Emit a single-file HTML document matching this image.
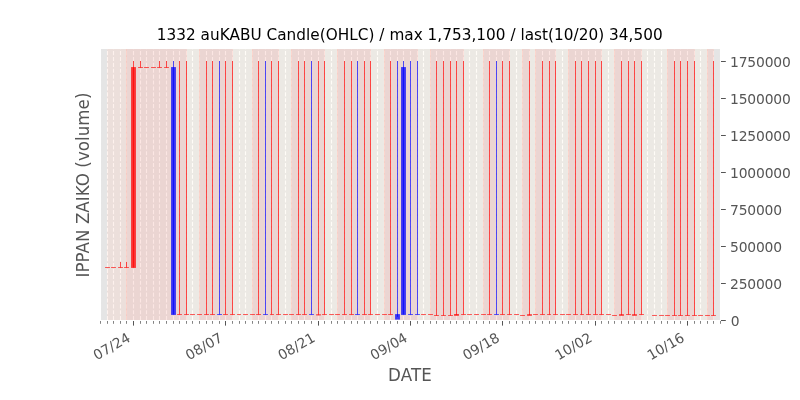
<!DOCTYPE html>
<html><head><meta charset="utf-8"><title>1332 auKABU Candle(OHLC)</title>
<style>html,body{margin:0;padding:0;background:#fff}body{width:800px;height:400px;overflow:hidden}</style></head>
<body>
<svg width="800" height="400" viewBox="0 0 800 400" style="display:block">
<rect width="800" height="400" fill="#fff"/>
<rect x="100" y="48" width="620" height="272" fill="#e5e5e5"/>
<g stroke="#fff" stroke-width="1.11" stroke-dasharray="4.11 1.78" fill="none">
<path d="M100.5 320.2V48"/>
<path d="M107.5 320.2V48"/>
<path d="M113.5 320.2V48"/>
<path d="M120.5 320.2V48"/>
<path d="M126.5 320.2V48"/>
<path d="M133.5 320.2V48"/>
<path d="M140.5 320.2V48"/>
<path d="M146.5 320.2V48"/>
<path d="M153.5 320.2V48"/>
<path d="M159.5 320.2V48"/>
<path d="M166.5 320.2V48"/>
<path d="M173.5 320.2V48"/>
<path d="M179.5 320.2V48"/>
<path d="M186.5 320.2V48"/>
<path d="M192.5 320.2V48"/>
<path d="M199.5 320.2V48"/>
<path d="M206.5 320.2V48"/>
<path d="M212.5 320.2V48"/>
<path d="M219.5 320.2V48"/>
<path d="M225.5 320.2V48"/>
<path d="M232.5 320.2V48"/>
<path d="M239.5 320.2V48"/>
<path d="M245.5 320.2V48"/>
<path d="M252.5 320.2V48"/>
<path d="M258.5 320.2V48"/>
<path d="M265.5 320.2V48"/>
<path d="M271.5 320.2V48"/>
<path d="M278.5 320.2V48"/>
<path d="M285.5 320.2V48"/>
<path d="M291.5 320.2V48"/>
<path d="M298.5 320.2V48"/>
<path d="M304.5 320.2V48"/>
<path d="M311.5 320.2V48"/>
<path d="M318.5 320.2V48"/>
<path d="M324.5 320.2V48"/>
<path d="M331.5 320.2V48"/>
<path d="M337.5 320.2V48"/>
<path d="M344.5 320.2V48"/>
<path d="M351.5 320.2V48"/>
<path d="M357.5 320.2V48"/>
<path d="M364.5 320.2V48"/>
<path d="M370.5 320.2V48"/>
<path d="M377.5 320.2V48"/>
<path d="M384.5 320.2V48"/>
<path d="M390.5 320.2V48"/>
<path d="M397.5 320.2V48"/>
<path d="M403.5 320.2V48"/>
<path d="M410.5 320.2V48"/>
<path d="M417.5 320.2V48"/>
<path d="M423.5 320.2V48"/>
<path d="M430.5 320.2V48"/>
<path d="M436.5 320.2V48"/>
<path d="M443.5 320.2V48"/>
<path d="M450.5 320.2V48"/>
<path d="M456.5 320.2V48"/>
<path d="M463.5 320.2V48"/>
<path d="M469.5 320.2V48"/>
<path d="M476.5 320.2V48"/>
<path d="M483.5 320.2V48"/>
<path d="M489.5 320.2V48"/>
<path d="M496.5 320.2V48"/>
<path d="M502.5 320.2V48"/>
<path d="M509.5 320.2V48"/>
<path d="M516.5 320.2V48"/>
<path d="M522.5 320.2V48"/>
<path d="M529.5 320.2V48"/>
<path d="M535.5 320.2V48"/>
<path d="M542.5 320.2V48"/>
<path d="M549.5 320.2V48"/>
<path d="M555.5 320.2V48"/>
<path d="M562.5 320.2V48"/>
<path d="M568.5 320.2V48"/>
<path d="M575.5 320.2V48"/>
<path d="M581.5 320.2V48"/>
<path d="M588.5 320.2V48"/>
<path d="M595.5 320.2V48"/>
<path d="M601.5 320.2V48"/>
<path d="M608.5 320.2V48"/>
<path d="M614.5 320.2V48"/>
<path d="M621.5 320.2V48"/>
<path d="M628.5 320.2V48"/>
<path d="M634.5 320.2V48"/>
<path d="M641.5 320.2V48"/>
<path d="M647.5 320.2V48"/>
<path d="M654.5 320.2V48"/>
<path d="M661.5 320.2V48"/>
<path d="M667.5 320.2V48"/>
<path d="M674.5 320.2V48"/>
<path d="M680.5 320.2V48"/>
<path d="M687.5 320.2V48"/>
<path d="M694.5 320.2V48"/>
<path d="M700.5 320.2V48"/>
<path d="M707.5 320.2V48"/>
<path d="M713.5 320.2V48"/>
<path d="M720.5 320.2V48"/>
</g>
<rect x="107.15" y="48" width="606.70" height="272" fill="#fef3e1" fill-opacity="0.28"/>
<rect x="107.15" y="48" width="19.70" height="272" fill="#e22b3a" fill-opacity="0.05"/>
<rect x="126.15" y="48" width="60.70" height="272" fill="#e22b3a" fill-opacity="0.1"/>
<rect x="199.15" y="48" width="33.70" height="272" fill="#e22b3a" fill-opacity="0.1"/>
<rect x="252.15" y="48" width="26.70" height="272" fill="#e22b3a" fill-opacity="0.1"/>
<rect x="291.15" y="48" width="33.70" height="272" fill="#e22b3a" fill-opacity="0.1"/>
<rect x="337.15" y="48" width="33.70" height="272" fill="#e22b3a" fill-opacity="0.1"/>
<rect x="384.15" y="48" width="33.70" height="272" fill="#e22b3a" fill-opacity="0.1"/>
<rect x="430.15" y="48" width="33.70" height="272" fill="#e22b3a" fill-opacity="0.1"/>
<rect x="483.15" y="48" width="26.70" height="272" fill="#e22b3a" fill-opacity="0.1"/>
<rect x="522.15" y="48" width="7.70" height="272" fill="#e22b3a" fill-opacity="0.1"/>
<rect x="535.15" y="48" width="20.70" height="272" fill="#e22b3a" fill-opacity="0.1"/>
<rect x="568.15" y="48" width="33.70" height="272" fill="#e22b3a" fill-opacity="0.1"/>
<rect x="614.15" y="48" width="27.70" height="272" fill="#e22b3a" fill-opacity="0.1"/>
<rect x="667.15" y="48" width="27.70" height="272" fill="#e22b3a" fill-opacity="0.1"/>
<rect x="707.15" y="48" width="6.70" height="272" fill="#e22b3a" fill-opacity="0.1"/>
<g fill="#fbcabe" fill-opacity="0.6">
<rect x="126" y="48" width="1" height="272"/>
<rect x="186" y="48" width="1" height="272" fill-opacity="0.25"/>
<rect x="199" y="48" width="1" height="272"/>
<rect x="232" y="48" width="1" height="272" fill-opacity="0.25"/>
<rect x="252" y="48" width="1" height="272"/>
<rect x="278" y="48" width="1" height="272" fill-opacity="0.25"/>
<rect x="291" y="48" width="1" height="272"/>
<rect x="324" y="48" width="1" height="272" fill-opacity="0.25"/>
<rect x="337" y="48" width="1" height="272"/>
<rect x="370" y="48" width="1" height="272" fill-opacity="0.25"/>
<rect x="384" y="48" width="1" height="272"/>
<rect x="417" y="48" width="1" height="272" fill-opacity="0.25"/>
<rect x="430" y="48" width="1" height="272"/>
<rect x="463" y="48" width="1" height="272" fill-opacity="0.25"/>
<rect x="483" y="48" width="1" height="272"/>
<rect x="509" y="48" width="1" height="272" fill-opacity="0.25"/>
<rect x="522" y="48" width="1" height="272"/>
<rect x="529" y="48" width="1" height="272" fill-opacity="0.25"/>
<rect x="535" y="48" width="1" height="272"/>
<rect x="555" y="48" width="1" height="272" fill-opacity="0.25"/>
<rect x="568" y="48" width="1" height="272"/>
<rect x="601" y="48" width="1" height="272" fill-opacity="0.25"/>
<rect x="614" y="48" width="1" height="272"/>
<rect x="641" y="48" width="1" height="272" fill-opacity="0.25"/>
<rect x="667" y="48" width="1" height="272"/>
<rect x="694" y="48" width="1" height="272" fill-opacity="0.25"/>
<rect x="707" y="48" width="1" height="272"/>
<rect x="713" y="48" width="1" height="272" fill-opacity="0.25"/>
</g>
<rect x="105.07" y="267.00" width="4.86" height="1" fill="#ff0000" fill-opacity="0.62"/>
<rect x="111.07" y="267.00" width="4.86" height="1" fill="#ff0000" fill-opacity="0.62"/>
<rect x="120" y="262.00" width="1" height="5.50" fill="#ff0000" fill-opacity="0.69"/>
<rect x="118.07" y="267.00" width="4.86" height="1" fill="#ff0000" fill-opacity="0.62"/>
<rect x="126" y="262.00" width="1" height="5.50" fill="#ff0000" fill-opacity="0.69"/>
<rect x="124.07" y="267.00" width="4.86" height="1" fill="#ff0000" fill-opacity="0.62"/>
<rect x="133" y="61.00" width="1" height="206.50" fill="#ff0000" fill-opacity="0.69"/>
<rect x="131.07" y="67.07" width="4.86" height="200.86" fill="#ff0000" fill-opacity="0.75"/>
<rect x="140" y="61.00" width="1" height="6.50" fill="#ff0000" fill-opacity="0.69"/>
<rect x="138.07" y="67.00" width="4.86" height="1" fill="#ff0000" fill-opacity="0.62"/>
<rect x="144.07" y="67.00" width="4.86" height="1" fill="#ff0000" fill-opacity="0.62"/>
<rect x="151.07" y="67.00" width="4.86" height="1" fill="#ff0000" fill-opacity="0.62"/>
<rect x="159" y="61.00" width="1" height="6.50" fill="#ff0000" fill-opacity="0.69"/>
<rect x="157.07" y="67.00" width="4.86" height="1" fill="#ff0000" fill-opacity="0.62"/>
<rect x="166" y="61.00" width="1" height="6.50" fill="#ff0000" fill-opacity="0.69"/>
<rect x="164.07" y="67.00" width="4.86" height="1" fill="#ff0000" fill-opacity="0.62"/>
<rect x="173" y="61.00" width="1" height="253.50" fill="#0000ff" fill-opacity="0.69"/>
<rect x="171.07" y="67.07" width="4.86" height="247.86" fill="#0000ff" fill-opacity="0.75"/>
<rect x="179" y="61.00" width="1" height="253.50" fill="#ff0000" fill-opacity="0.69"/>
<rect x="177.07" y="314.00" width="4.86" height="1" fill="#ff0000" fill-opacity="0.62"/>
<rect x="186" y="61.00" width="1" height="253.50" fill="#ff0000" fill-opacity="0.69"/>
<rect x="184.07" y="314.00" width="4.86" height="1" fill="#ff0000" fill-opacity="0.62"/>
<rect x="190.07" y="314.00" width="4.86" height="1" fill="#ff0000" fill-opacity="0.62"/>
<rect x="197.07" y="314.00" width="4.86" height="1" fill="#ff0000" fill-opacity="0.62"/>
<rect x="206" y="61.00" width="1" height="253.50" fill="#ff0000" fill-opacity="0.69"/>
<rect x="204.07" y="314.00" width="4.86" height="1" fill="#ff0000" fill-opacity="0.62"/>
<rect x="212" y="61.00" width="1" height="253.50" fill="#ff0000" fill-opacity="0.69"/>
<rect x="210.07" y="314.00" width="4.86" height="1" fill="#ff0000" fill-opacity="0.62"/>
<rect x="219" y="61.00" width="1" height="253.50" fill="#0000ff" fill-opacity="0.69"/>
<rect x="217.07" y="314.00" width="4.86" height="1" fill="#0000ff" fill-opacity="0.62"/>
<rect x="225" y="61.00" width="1" height="253.50" fill="#ff0000" fill-opacity="0.69"/>
<rect x="223.07" y="314.00" width="4.86" height="1" fill="#ff0000" fill-opacity="0.62"/>
<rect x="232" y="61.00" width="1" height="253.50" fill="#ff0000" fill-opacity="0.69"/>
<rect x="230.07" y="314.00" width="4.86" height="1" fill="#ff0000" fill-opacity="0.62"/>
<rect x="237.07" y="314.00" width="3.86" height="1" fill="#ff0000" fill-opacity="0.62"/>
<rect x="243.07" y="314.00" width="4.86" height="1" fill="#ff0000" fill-opacity="0.62"/>
<rect x="250.07" y="314.00" width="4.86" height="1" fill="#ff0000" fill-opacity="0.62"/>
<rect x="258" y="61.00" width="1" height="253.50" fill="#ff0000" fill-opacity="0.69"/>
<rect x="256.07" y="314.00" width="4.86" height="1" fill="#ff0000" fill-opacity="0.62"/>
<rect x="265" y="61.00" width="1" height="253.50" fill="#0000ff" fill-opacity="0.69"/>
<rect x="263.07" y="314.00" width="4.86" height="1" fill="#0000ff" fill-opacity="0.62"/>
<rect x="271" y="61.00" width="1" height="253.50" fill="#ff0000" fill-opacity="0.69"/>
<rect x="270.07" y="314.00" width="3.86" height="1" fill="#ff0000" fill-opacity="0.62"/>
<rect x="278" y="61.00" width="1" height="253.50" fill="#ff0000" fill-opacity="0.69"/>
<rect x="276.07" y="314.00" width="4.86" height="1" fill="#ff0000" fill-opacity="0.62"/>
<rect x="283.07" y="314.00" width="4.86" height="1" fill="#ff0000" fill-opacity="0.62"/>
<rect x="289.07" y="314.00" width="4.86" height="1" fill="#ff0000" fill-opacity="0.62"/>
<rect x="298" y="61.00" width="1" height="253.50" fill="#ff0000" fill-opacity="0.69"/>
<rect x="296.07" y="314.00" width="4.86" height="1" fill="#ff0000" fill-opacity="0.62"/>
<rect x="304" y="61.00" width="1" height="253.50" fill="#ff0000" fill-opacity="0.69"/>
<rect x="302.07" y="314.00" width="4.86" height="1" fill="#ff0000" fill-opacity="0.62"/>
<rect x="311" y="61.00" width="1" height="253.50" fill="#0000ff" fill-opacity="0.69"/>
<rect x="309.07" y="314.00" width="4.86" height="1" fill="#0000ff" fill-opacity="0.62"/>
<rect x="318" y="61.00" width="1" height="253.85" fill="#ff0000" fill-opacity="0.69"/>
<rect x="316.07" y="314.30" width="4.86" height="1.10" fill="#ff0000" fill-opacity="0.75"/>
<rect x="324" y="61.00" width="1" height="253.50" fill="#ff0000" fill-opacity="0.69"/>
<rect x="322.07" y="314.00" width="4.86" height="1" fill="#ff0000" fill-opacity="0.62"/>
<rect x="329.07" y="314.00" width="4.86" height="1" fill="#ff0000" fill-opacity="0.62"/>
<rect x="335.07" y="314.00" width="4.86" height="1" fill="#ff0000" fill-opacity="0.62"/>
<rect x="344" y="61.00" width="1" height="253.50" fill="#ff0000" fill-opacity="0.69"/>
<rect x="342.07" y="314.00" width="4.86" height="1" fill="#ff0000" fill-opacity="0.62"/>
<rect x="351" y="61.00" width="1" height="253.50" fill="#ff0000" fill-opacity="0.69"/>
<rect x="349.07" y="314.00" width="4.86" height="1" fill="#ff0000" fill-opacity="0.62"/>
<rect x="357" y="61.00" width="1" height="253.50" fill="#0000ff" fill-opacity="0.69"/>
<rect x="355.07" y="314.00" width="4.86" height="1" fill="#0000ff" fill-opacity="0.62"/>
<rect x="364" y="61.00" width="1" height="253.50" fill="#ff0000" fill-opacity="0.69"/>
<rect x="362.07" y="314.00" width="4.86" height="1" fill="#ff0000" fill-opacity="0.62"/>
<rect x="370" y="61.00" width="1" height="253.50" fill="#ff0000" fill-opacity="0.69"/>
<rect x="368.07" y="314.00" width="4.86" height="1" fill="#ff0000" fill-opacity="0.62"/>
<rect x="375.07" y="314.00" width="4.86" height="1" fill="#ff0000" fill-opacity="0.62"/>
<rect x="382.07" y="314.00" width="4.86" height="1" fill="#ff0000" fill-opacity="0.62"/>
<rect x="390" y="61.00" width="1" height="253.50" fill="#ff0000" fill-opacity="0.69"/>
<rect x="388.07" y="314.00" width="4.86" height="1" fill="#ff0000" fill-opacity="0.62"/>
<rect x="397" y="61.00" width="1" height="255.85" fill="#0000ff" fill-opacity="0.69"/>
<rect x="395.07" y="314.10" width="4.86" height="5.50" fill="#0000ff" fill-opacity="0.75"/>
<rect x="403" y="61.00" width="1" height="253.50" fill="#0000ff" fill-opacity="0.69"/>
<rect x="401.07" y="67.07" width="4.86" height="247.86" fill="#0000ff" fill-opacity="0.75"/>
<rect x="410" y="61.00" width="1" height="253.50" fill="#0000ff" fill-opacity="0.69"/>
<rect x="408.07" y="314.00" width="4.86" height="1" fill="#0000ff" fill-opacity="0.62"/>
<rect x="417" y="61.00" width="1" height="253.50" fill="#0000ff" fill-opacity="0.69"/>
<rect x="415.07" y="314.00" width="4.86" height="1" fill="#0000ff" fill-opacity="0.62"/>
<rect x="421.07" y="314.00" width="4.86" height="1" fill="#ff0000" fill-opacity="0.62"/>
<rect x="428.07" y="314.00" width="4.86" height="1" fill="#ff0000" fill-opacity="0.62"/>
<rect x="436" y="61.00" width="1" height="254.50" fill="#ff0000" fill-opacity="0.69"/>
<rect x="434.07" y="315.00" width="4.86" height="1" fill="#ff0000" fill-opacity="0.62"/>
<rect x="443" y="61.00" width="1" height="254.50" fill="#ff0000" fill-opacity="0.69"/>
<rect x="441.07" y="315.00" width="4.86" height="1" fill="#ff0000" fill-opacity="0.62"/>
<rect x="450" y="61.00" width="1" height="254.50" fill="#ff0000" fill-opacity="0.69"/>
<rect x="448.07" y="315.00" width="4.86" height="1" fill="#ff0000" fill-opacity="0.62"/>
<rect x="456" y="61.00" width="1" height="253.90" fill="#ff0000" fill-opacity="0.69"/>
<rect x="454.07" y="314.00" width="4.86" height="1.80" fill="#ff0000" fill-opacity="0.75"/>
<rect x="463" y="61.00" width="1" height="253.50" fill="#ff0000" fill-opacity="0.69"/>
<rect x="461.07" y="314.00" width="4.86" height="1" fill="#ff0000" fill-opacity="0.62"/>
<rect x="467.07" y="314.00" width="4.86" height="1" fill="#ff0000" fill-opacity="0.62"/>
<rect x="474.07" y="314.00" width="4.86" height="1" fill="#ff0000" fill-opacity="0.62"/>
<rect x="481.07" y="314.00" width="4.86" height="1" fill="#ff0000" fill-opacity="0.62"/>
<rect x="489" y="61.00" width="1" height="253.50" fill="#ff0000" fill-opacity="0.69"/>
<rect x="487.07" y="314.00" width="4.86" height="1" fill="#ff0000" fill-opacity="0.62"/>
<rect x="496" y="61.00" width="1" height="253.50" fill="#0000ff" fill-opacity="0.69"/>
<rect x="494.07" y="314.00" width="4.86" height="1" fill="#0000ff" fill-opacity="0.62"/>
<rect x="502" y="61.00" width="1" height="253.50" fill="#ff0000" fill-opacity="0.69"/>
<rect x="500.07" y="314.00" width="4.86" height="1" fill="#ff0000" fill-opacity="0.62"/>
<rect x="509" y="61.00" width="1" height="253.50" fill="#ff0000" fill-opacity="0.69"/>
<rect x="507.07" y="314.00" width="4.86" height="1" fill="#ff0000" fill-opacity="0.62"/>
<rect x="514.07" y="314.00" width="4.86" height="1" fill="#ff0000" fill-opacity="0.62"/>
<rect x="520.07" y="315.00" width="4.86" height="1" fill="#ff0000" fill-opacity="0.62"/>
<rect x="529" y="61.00" width="1" height="254.00" fill="#ff0000" fill-opacity="0.69"/>
<rect x="527.07" y="314.20" width="4.86" height="1.60" fill="#ff0000" fill-opacity="0.75"/>
<rect x="533.07" y="314.00" width="4.86" height="1" fill="#ff0000" fill-opacity="0.62"/>
<rect x="542" y="61.00" width="1" height="253.50" fill="#ff0000" fill-opacity="0.69"/>
<rect x="540.07" y="314.00" width="4.86" height="1" fill="#ff0000" fill-opacity="0.62"/>
<rect x="549" y="61.00" width="1" height="253.50" fill="#ff0000" fill-opacity="0.69"/>
<rect x="547.07" y="314.00" width="3.86" height="1" fill="#ff0000" fill-opacity="0.62"/>
<rect x="555" y="61.00" width="1" height="253.50" fill="#ff0000" fill-opacity="0.69"/>
<rect x="553.07" y="314.00" width="4.86" height="1" fill="#ff0000" fill-opacity="0.62"/>
<rect x="560.07" y="314.00" width="4.86" height="1" fill="#ff0000" fill-opacity="0.62"/>
<rect x="566.07" y="314.00" width="4.86" height="1" fill="#ff0000" fill-opacity="0.62"/>
<rect x="575" y="61.00" width="1" height="253.50" fill="#ff0000" fill-opacity="0.69"/>
<rect x="573.07" y="314.00" width="4.86" height="1" fill="#ff0000" fill-opacity="0.62"/>
<rect x="581" y="61.00" width="1" height="253.50" fill="#ff0000" fill-opacity="0.69"/>
<rect x="580.07" y="314.00" width="3.86" height="1" fill="#ff0000" fill-opacity="0.62"/>
<rect x="588" y="61.00" width="1" height="253.50" fill="#ff0000" fill-opacity="0.69"/>
<rect x="586.07" y="314.00" width="4.86" height="1" fill="#ff0000" fill-opacity="0.62"/>
<rect x="595" y="61.00" width="1" height="253.50" fill="#ff0000" fill-opacity="0.69"/>
<rect x="593.07" y="314.00" width="4.86" height="1" fill="#ff0000" fill-opacity="0.62"/>
<rect x="601" y="61.00" width="1" height="253.50" fill="#ff0000" fill-opacity="0.69"/>
<rect x="599.07" y="314.00" width="4.86" height="1" fill="#ff0000" fill-opacity="0.62"/>
<rect x="606.07" y="314.00" width="4.86" height="1" fill="#ff0000" fill-opacity="0.62"/>
<rect x="612.07" y="315.00" width="4.86" height="1" fill="#ff0000" fill-opacity="0.62"/>
<rect x="621" y="61.00" width="1" height="254.00" fill="#ff0000" fill-opacity="0.69"/>
<rect x="619.07" y="314.20" width="4.86" height="1.60" fill="#ff0000" fill-opacity="0.75"/>
<rect x="628" y="61.00" width="1" height="253.50" fill="#ff0000" fill-opacity="0.69"/>
<rect x="626.07" y="314.00" width="4.86" height="1" fill="#ff0000" fill-opacity="0.62"/>
<rect x="634" y="61.00" width="1" height="254.00" fill="#ff0000" fill-opacity="0.69"/>
<rect x="632.07" y="314.20" width="4.86" height="1.60" fill="#ff0000" fill-opacity="0.75"/>
<rect x="641" y="61.00" width="1" height="253.50" fill="#ff0000" fill-opacity="0.69"/>
<rect x="639.07" y="314.00" width="4.86" height="1" fill="#ff0000" fill-opacity="0.62"/>
<rect x="652.07" y="315.00" width="4.86" height="1" fill="#ff0000" fill-opacity="0.62"/>
<rect x="659.07" y="315.00" width="4.86" height="1" fill="#ff0000" fill-opacity="0.62"/>
<rect x="665.07" y="315.00" width="4.86" height="1" fill="#ff0000" fill-opacity="0.62"/>
<rect x="674" y="61.00" width="1" height="254.50" fill="#ff0000" fill-opacity="0.69"/>
<rect x="672.07" y="315.00" width="4.86" height="1" fill="#ff0000" fill-opacity="0.62"/>
<rect x="680" y="61.00" width="1" height="254.50" fill="#ff0000" fill-opacity="0.69"/>
<rect x="678.07" y="315.00" width="4.86" height="1" fill="#ff0000" fill-opacity="0.62"/>
<rect x="687" y="61.00" width="1" height="254.50" fill="#ff0000" fill-opacity="0.69"/>
<rect x="685.07" y="315.00" width="4.86" height="1" fill="#ff0000" fill-opacity="0.62"/>
<rect x="694" y="61.00" width="1" height="254.50" fill="#ff0000" fill-opacity="0.69"/>
<rect x="692.07" y="315.00" width="4.86" height="1" fill="#ff0000" fill-opacity="0.62"/>
<rect x="698.07" y="315.00" width="4.86" height="1" fill="#ff0000" fill-opacity="0.62"/>
<rect x="705.07" y="315.00" width="4.86" height="1" fill="#ff0000" fill-opacity="0.62"/>
<rect x="713" y="61.00" width="1" height="254.50" fill="#ff0000" fill-opacity="0.69"/>
<rect x="711.07" y="315.00" width="4.86" height="1" fill="#ff0000" fill-opacity="0.62"/>
<rect x="100.5" y="48.5" width="620" height="272" fill="none" stroke="#fff" stroke-width="1"/>
<g fill="#555555">
<rect x="100" y="321" width="1" height="2.8" fill-opacity="0.72"/>
<rect x="107" y="321" width="1" height="2.8" fill-opacity="0.72"/>
<rect x="113" y="321" width="1" height="2.8" fill-opacity="0.72"/>
<rect x="120" y="321" width="1" height="2.8" fill-opacity="0.72"/>
<rect x="126" y="321" width="1" height="2.8" fill-opacity="0.72"/>
<rect x="133" y="321" width="1" height="4.6"/>
<rect x="140" y="321" width="1" height="2.8" fill-opacity="0.72"/>
<rect x="146" y="321" width="1" height="2.8" fill-opacity="0.72"/>
<rect x="153" y="321" width="1" height="2.8" fill-opacity="0.72"/>
<rect x="159" y="321" width="1" height="2.8" fill-opacity="0.72"/>
<rect x="166" y="321" width="1" height="2.8" fill-opacity="0.72"/>
<rect x="173" y="321" width="1" height="2.8" fill-opacity="0.72"/>
<rect x="179" y="321" width="1" height="2.8" fill-opacity="0.72"/>
<rect x="186" y="321" width="1" height="2.8" fill-opacity="0.72"/>
<rect x="192" y="321" width="1" height="2.8" fill-opacity="0.72"/>
<rect x="199" y="321" width="1" height="2.8" fill-opacity="0.72"/>
<rect x="206" y="321" width="1" height="2.8" fill-opacity="0.72"/>
<rect x="212" y="321" width="1" height="2.8" fill-opacity="0.72"/>
<rect x="219" y="321" width="1" height="2.8" fill-opacity="0.72"/>
<rect x="225" y="321" width="1" height="4.6"/>
<rect x="232" y="321" width="1" height="2.8" fill-opacity="0.72"/>
<rect x="239" y="321" width="1" height="2.8" fill-opacity="0.72"/>
<rect x="245" y="321" width="1" height="2.8" fill-opacity="0.72"/>
<rect x="252" y="321" width="1" height="2.8" fill-opacity="0.72"/>
<rect x="258" y="321" width="1" height="2.8" fill-opacity="0.72"/>
<rect x="265" y="321" width="1" height="2.8" fill-opacity="0.72"/>
<rect x="271" y="321" width="1" height="2.8" fill-opacity="0.72"/>
<rect x="278" y="321" width="1" height="2.8" fill-opacity="0.72"/>
<rect x="285" y="321" width="1" height="2.8" fill-opacity="0.72"/>
<rect x="291" y="321" width="1" height="2.8" fill-opacity="0.72"/>
<rect x="298" y="321" width="1" height="2.8" fill-opacity="0.72"/>
<rect x="304" y="321" width="1" height="2.8" fill-opacity="0.72"/>
<rect x="311" y="321" width="1" height="2.8" fill-opacity="0.72"/>
<rect x="318" y="321" width="1" height="4.6"/>
<rect x="324" y="321" width="1" height="2.8" fill-opacity="0.72"/>
<rect x="331" y="321" width="1" height="2.8" fill-opacity="0.72"/>
<rect x="337" y="321" width="1" height="2.8" fill-opacity="0.72"/>
<rect x="344" y="321" width="1" height="2.8" fill-opacity="0.72"/>
<rect x="351" y="321" width="1" height="2.8" fill-opacity="0.72"/>
<rect x="357" y="321" width="1" height="2.8" fill-opacity="0.72"/>
<rect x="364" y="321" width="1" height="2.8" fill-opacity="0.72"/>
<rect x="370" y="321" width="1" height="2.8" fill-opacity="0.72"/>
<rect x="377" y="321" width="1" height="2.8" fill-opacity="0.72"/>
<rect x="384" y="321" width="1" height="2.8" fill-opacity="0.72"/>
<rect x="390" y="321" width="1" height="2.8" fill-opacity="0.72"/>
<rect x="397" y="321" width="1" height="2.8" fill-opacity="0.72"/>
<rect x="403" y="321" width="1" height="2.8" fill-opacity="0.72"/>
<rect x="410" y="321" width="1" height="4.6"/>
<rect x="417" y="321" width="1" height="2.8" fill-opacity="0.72"/>
<rect x="423" y="321" width="1" height="2.8" fill-opacity="0.72"/>
<rect x="430" y="321" width="1" height="2.8" fill-opacity="0.72"/>
<rect x="436" y="321" width="1" height="2.8" fill-opacity="0.72"/>
<rect x="443" y="321" width="1" height="2.8" fill-opacity="0.72"/>
<rect x="450" y="321" width="1" height="2.8" fill-opacity="0.72"/>
<rect x="456" y="321" width="1" height="2.8" fill-opacity="0.72"/>
<rect x="463" y="321" width="1" height="2.8" fill-opacity="0.72"/>
<rect x="469" y="321" width="1" height="2.8" fill-opacity="0.72"/>
<rect x="476" y="321" width="1" height="2.8" fill-opacity="0.72"/>
<rect x="483" y="321" width="1" height="2.8" fill-opacity="0.72"/>
<rect x="489" y="321" width="1" height="2.8" fill-opacity="0.72"/>
<rect x="496" y="321" width="1" height="2.8" fill-opacity="0.72"/>
<rect x="502" y="321" width="1" height="4.6"/>
<rect x="509" y="321" width="1" height="2.8" fill-opacity="0.72"/>
<rect x="516" y="321" width="1" height="2.8" fill-opacity="0.72"/>
<rect x="522" y="321" width="1" height="2.8" fill-opacity="0.72"/>
<rect x="529" y="321" width="1" height="2.8" fill-opacity="0.72"/>
<rect x="535" y="321" width="1" height="2.8" fill-opacity="0.72"/>
<rect x="542" y="321" width="1" height="2.8" fill-opacity="0.72"/>
<rect x="549" y="321" width="1" height="2.8" fill-opacity="0.72"/>
<rect x="555" y="321" width="1" height="2.8" fill-opacity="0.72"/>
<rect x="562" y="321" width="1" height="2.8" fill-opacity="0.72"/>
<rect x="568" y="321" width="1" height="2.8" fill-opacity="0.72"/>
<rect x="575" y="321" width="1" height="2.8" fill-opacity="0.72"/>
<rect x="581" y="321" width="1" height="2.8" fill-opacity="0.72"/>
<rect x="588" y="321" width="1" height="2.8" fill-opacity="0.72"/>
<rect x="595" y="321" width="1" height="4.6"/>
<rect x="601" y="321" width="1" height="2.8" fill-opacity="0.72"/>
<rect x="608" y="321" width="1" height="2.8" fill-opacity="0.72"/>
<rect x="614" y="321" width="1" height="2.8" fill-opacity="0.72"/>
<rect x="621" y="321" width="1" height="2.8" fill-opacity="0.72"/>
<rect x="628" y="321" width="1" height="2.8" fill-opacity="0.72"/>
<rect x="634" y="321" width="1" height="2.8" fill-opacity="0.72"/>
<rect x="641" y="321" width="1" height="2.8" fill-opacity="0.72"/>
<rect x="647" y="321" width="1" height="2.8" fill-opacity="0.72"/>
<rect x="654" y="321" width="1" height="2.8" fill-opacity="0.72"/>
<rect x="661" y="321" width="1" height="2.8" fill-opacity="0.72"/>
<rect x="667" y="321" width="1" height="2.8" fill-opacity="0.72"/>
<rect x="674" y="321" width="1" height="2.8" fill-opacity="0.72"/>
<rect x="680" y="321" width="1" height="2.8" fill-opacity="0.72"/>
<rect x="687" y="321" width="1" height="4.6"/>
<rect x="694" y="321" width="1" height="2.8" fill-opacity="0.72"/>
<rect x="700" y="321" width="1" height="2.8" fill-opacity="0.72"/>
<rect x="707" y="321" width="1" height="2.8" fill-opacity="0.72"/>
<rect x="713" y="321" width="1" height="2.8" fill-opacity="0.72"/>
<rect x="720" y="321" width="1" height="2.8" fill-opacity="0.72"/>
<rect x="721" y="320" width="4.8" height="1"/>
<rect x="721" y="283" width="4.8" height="1"/>
<rect x="721" y="246" width="4.8" height="1"/>
<rect x="721" y="209" width="4.8" height="1"/>
<rect x="721" y="172" width="4.8" height="1"/>
<rect x="721" y="135" width="4.8" height="1"/>
<rect x="721" y="98" width="4.8" height="1"/>
<rect x="721" y="61" width="4.8" height="1"/>
</g>
<g font-family="'DejaVu Sans','Liberation Sans',sans-serif" fill="#555555">
<text x="730.7" y="325.70" font-size="13.89" textLength="7.84">0</text>
<text x="730.0" y="288.76" font-size="13.89" textLength="52.02">250000</text>
<text x="730.0" y="251.82" font-size="13.89" textLength="52.02">500000</text>
<text x="730.0" y="214.88" font-size="13.89" textLength="52.02">750000</text>
<text x="730.0" y="177.93" font-size="13.89" textLength="60.86">1000000</text>
<text x="730.0" y="140.99" font-size="13.89" textLength="60.86">1250000</text>
<text x="730.0" y="104.05" font-size="13.89" textLength="60.86">1500000</text>
<text x="730.0" y="67.11" font-size="13.89" textLength="60.86">1750000</text>
<text transform="translate(96.78,360.50) rotate(-30)" font-size="13.89">07/24</text>
<text transform="translate(189.12,360.50) rotate(-30)" font-size="13.89">08/07</text>
<text transform="translate(281.46,360.50) rotate(-30)" font-size="13.89">08/21</text>
<text transform="translate(373.80,360.50) rotate(-30)" font-size="13.89">09/04</text>
<text transform="translate(466.14,360.50) rotate(-30)" font-size="13.89">09/18</text>
<text transform="translate(558.48,360.50) rotate(-30)" font-size="13.89">10/02</text>
<text transform="translate(650.82,360.50) rotate(-30)" font-size="13.89">10/16</text>
<text transform="translate(410,380.6) scale(1,1.07)" font-size="16.67" text-anchor="middle" textLength="43.8">DATE</text>
<text transform="translate(89.4,277.5) rotate(-90) scale(1,1.05)" font-size="16.67" textLength="184.9">IPPAN ZAIKO (volume)</text>
</g>
<text x="156.8" y="39.5" font-family="'DejaVu Sans','Liberation Sans',sans-serif" font-size="15.28" fill="#000" textLength="505.8" style="white-space:pre">1332 auKABU Candle(OHLC) / max 1,753,100 / last(10/20) 34,500</text>
</svg>
</body></html>
